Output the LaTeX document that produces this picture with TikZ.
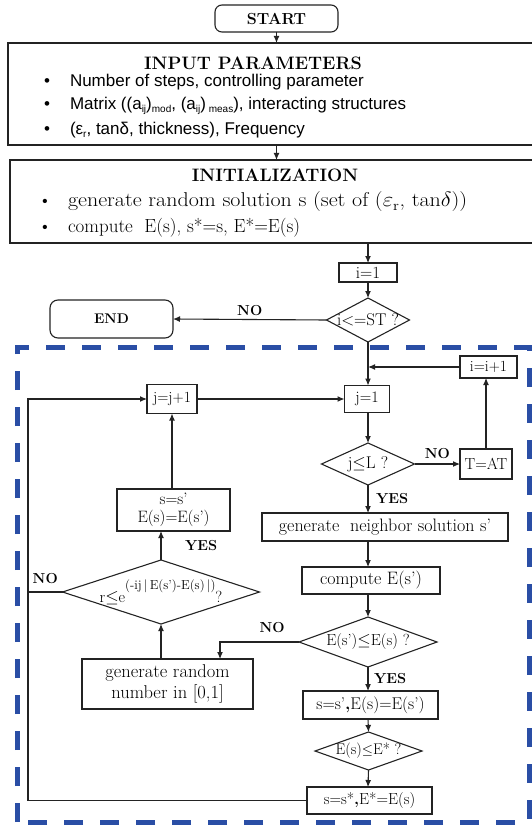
\documentclass[tikz,border=0pt]{standalone}
\usepackage{fontspec}
\newfontfamily\arialf{Liberation Sans}
\usetikzlibrary{shapes.geometric,arrows.meta,calc}
\definecolor{dashblue}{RGB}{42,78,165}
\definecolor{lc}{RGB}{35,35,35}
\newcommand\myfs[1]{\fontsize{#1}{#1}\selectfont}
\newcommand\mysub[1]{\raisebox{-3pt}{\myfs{10}#1}}
\begin{document}
\begin{tikzpicture}[x=1pt,y=-1pt,
  every node/.style={inner sep=0pt, outer sep=0pt},
  box/.style={draw=lc, line width=1.1pt, rectangle, align=center},
  dia/.style={draw=lc, line width=1.1pt, diamond},
  arr/.style={draw=lc, line width=1.1pt, -{Latex[length=7pt,width=6pt]}},
  ln/.style={draw=lc, line width=1.1pt},
  lbl/.style={font={\bfseries\myfs{14.5}}},
  ttl/.style={font={\bfseries\myfs{18}}},
  sansb/.style={font={\arialf\myfs{17}}},
  serb/.style={font={\myfs{19}}},
]
\useasboundingbox (0,0) rectangle (531,826);

% dashed loop frame
\draw[dashblue, line width=5pt, dash pattern=on 19pt off 17pt] (17,822) -- (17,347) -- (529,347) -- (529,822) -- cycle;

% top part
\node[box, rounded corners=7pt, minimum width=123pt, minimum height=27pt, font={\bfseries\myfs{16}}] (start) at (276.5,18.5) {START};
\node[box, anchor=north west, minimum width=530pt, minimum height=102pt] (inp) at (8,43) {};
\node[ttl, anchor=base] (inpt) at (253,70) {INPUT PARAMETERS};
\node[sansb, anchor=base] (ib1) at (47,87) {•};
\node[sansb, anchor=base west] (it1) at (70,87) {Number of steps, controlling parameter};
\node[sansb, anchor=base] (ib2) at (47,110) {•};
\node[sansb, anchor=base west] (it2) at (70,110) {Matrix ((a\mysub{ij})\mysub{mod}, (a\mysub{ij})\,\mysub{meas}), interacting structures};
\node[sansb, anchor=base] (ib3) at (47,135) {•};
\node[sansb, anchor=base west] (it3) at (70,135) {(ε\mysub{r}, tanδ, thickness), Frequency};

\node[box, anchor=north west, minimum width=528pt, minimum height=83pt] (init) at (10,160) {};
\node[ttl, anchor=base] (initt) at (275,182) {INITIALIZATION};
\node[serb, anchor=base] (nb1) at (45,207) {\textbullet};
\node[serb, anchor=base west, font={\myfs{20}}] (nt1) at (68,207) {\scalebox{1.1}[1]{generate random solution s (set of ($\varepsilon_{\mathrm{r}}$, tan$\delta$))}};
\node[serb, anchor=base] (nb2) at (45,233) {\textbullet};
\node[serb, anchor=base west] (nt2) at (68,233) {compute\ \ E(s), s*=s, E*=E(s)};

\node[box, minimum width=58pt, minimum height=19pt, font={\myfs{17}}] (i1) at (368,272.5) {i=1};
\node[dia, minimum width=83pt, minimum height=44pt, label={[font={\myfs{17}}]center:i<=ST ?}] (d1) at (368,320) {};
\node[box, rounded corners=8pt, minimum width=123pt, minimum height=38pt, font={\bfseries\myfs{14}}] (endn) at (111.5,319) {END};

% loop part
\node[box, minimum width=57pt, minimum height=22pt, font={\myfs{15.5}}] (ii1) at (488.5,367) {i=i+1};
\node[box, minimum width=45pt, minimum height=27pt, font={\myfs{16}}] (j1) at (367,399) {j=1};
\node[box, minimum width=50pt, minimum height=29pt, font={\myfs{15.5}}] (jj1) at (172,399) {j=j+1};
\node[dia, minimum width=93pt, minimum height=42pt, label={[font={\myfs{17}}]center:j$\leq$L ?}] (d2) at (368,464) {};
\node[box, minimum width=52pt, minimum height=30pt, font={\myfs{16}}] (tat) at (486,464) {T=AT};
\node[box, minimum width=246pt, minimum height=28pt, font={\myfs{18}}] (gen) at (385,527) {generate\ \ neighbor solution s'};
\node[box, minimum width=138pt, minimum height=27pt, font={\myfs{18}}] (comp) at (371,580.5) {compute E(s')};
\node[dia, minimum width=138pt, minimum height=50pt, label={[font={\myfs{16}}]center:E(s')$\leq$E(s) ?}] (d3) at (368,642) {};
\node[box, minimum width=171pt, minimum height=50pt, font={\myfs{18.5}}] (rand) at (167.5,684) {generate random\\[3pt]number in [0,1]};
\node[dia, minimum width=197pt, minimum height=64pt, label={[font={\myfs{16}}]center:{r$\leq$e\raisebox{13pt}{\myfs{13}(-ij\,|\,E(s')-E(s)\,|)}\raisebox{0pt}{?}}}] (d4) at (161,592) {};
\node[box, minimum width=113pt, minimum height=42pt, font={\myfs{16.5}}] (sss) at (173.5,510) {s=s'\\[2pt]E(s)=E(s')};
\node[box, minimum width=135pt, minimum height=28pt, font={\myfs{17}}] (upd) at (370.5,705) {s=s'\textbf{,}E(s)=E(s')};
\node[dia, minimum width=107pt, minimum height=38pt, label={[font={\myfs{15.5}}]center:E(s)$\leq$E* ?}] (d5) at (368.5,751) {};
\node[box, minimum width=125pt, minimum height=27pt, font={\myfs{16}}] (best) at (369.5,800.5) {s=s*\textbf{,}E*=E(s)};

\coordinate (X) at (368,0);
\coordinate (lx) at (28,0);
\coordinate (rx) at (220,0);

% connectors
\draw[arr] (start.south) -- (start.south |- inp.north);
\draw[arr] (start.south |- inp.south) -- (start.south |- init.north);
\draw[arr] (i1.north |- init.south) -- (i1.north);
\draw[arr] (i1.south) -- (d1.north);
\draw[arr] (d1.west) -- (endn.east) node[midway, above=4pt, lbl] {NO};
\coordinate (m) at (d1.south |- ii1.west);
\draw[ln] (d1.south) -- (m);
\draw[arr] (m) -- (m |- j1.north);
\draw[arr] (ii1.west) -- (m);
\draw[arr] (jj1.east) -- (jj1.east -| j1.west);
\draw[arr] (X |- j1.south) -- (d2.north);
\draw[arr] (d2.east) -- (tat.west) node[midway, above=5pt, lbl] {NO};
\draw[arr] (tat.north) -- (tat.north |- ii1.south);
\draw[arr] (d2.south) -- (d2.south |- gen.north) node[midway, right=8pt, lbl] {YES};
\draw[arr] (X |- gen.south) -- (X |- comp.north);
\draw[arr] (X |- comp.south) -- (d3.north);
\draw[arr] (d3.west) -| (rx |- rand.north) node[pos=0.17, above=9pt, lbl] {NO};
\draw[arr] (d4.south |- rand.north) -- (d4.south);
\draw[arr] (d4.north) -- (d4.north |- sss.south) node[midway, right=24pt, lbl] {YES};
\draw[arr] (jj1.south |- sss.north) -- (jj1.south);
\draw[ln] (d4.west) -- (lx |- d4.west) node[midway, above=8pt, lbl] {NO};
\draw[arr] (d3.south) -- (d3.south |- upd.north) node[midway, right=6pt, lbl] {YES};
\draw[arr] (X |- upd.south) -- (d5.north);
\draw[arr] (d5.south) -- (X |- best.north);
\draw[arr] (best.west) -| (lx |- jj1.west) -- (jj1.west);
\end{tikzpicture}
\end{document}
